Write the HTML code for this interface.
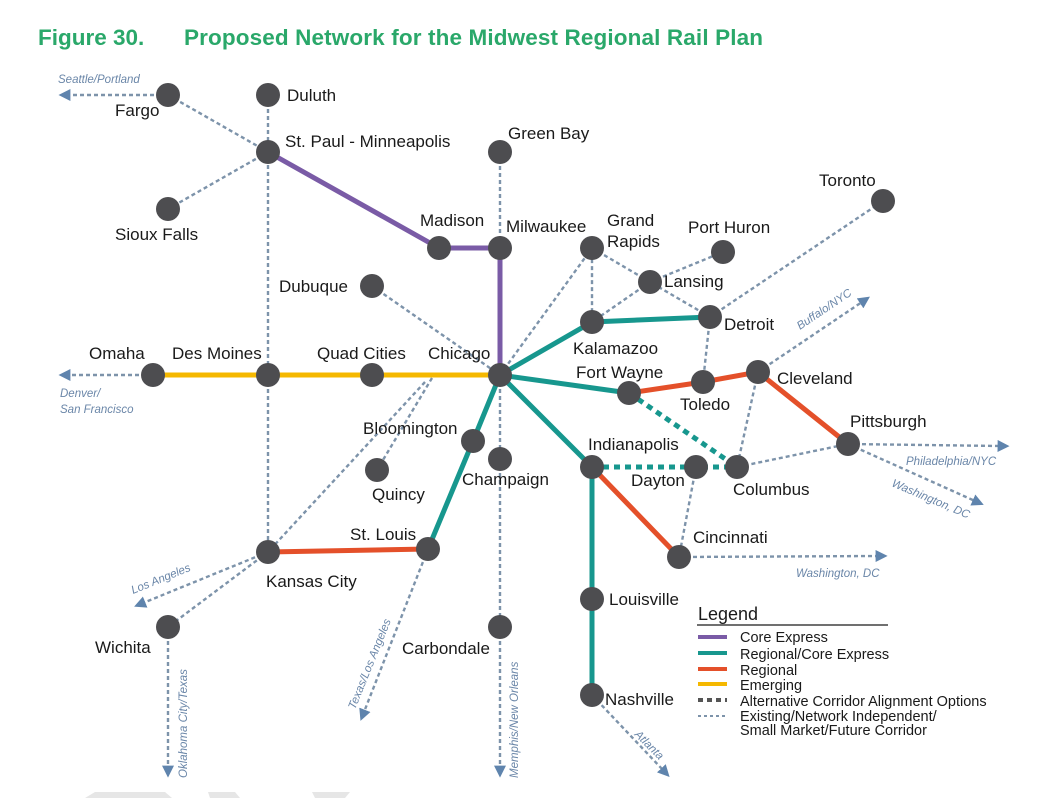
<!DOCTYPE html>
<html><head><meta charset="utf-8"><style>
html,body{margin:0;padding:0;background:#fff;}
svg{display:block;}
.c{font-family:"Liberation Sans",sans-serif;font-size:17px;fill:#1a1a1a;}
.a{font-family:"Liberation Sans",sans-serif;font-size:11.5px;font-style:italic;fill:#6a86a8;}
.d{stroke:#7d93aa;stroke-width:2.4;stroke-dasharray:4 3;fill:none;}
.da{stroke:#7d93aa;stroke-width:2.4;stroke-dasharray:4 3;fill:none;marker-end:url(#ar);}
.l{font-family:"Liberation Sans",sans-serif;font-size:14.5px;fill:#1a1a1a;}
</style></head><body>
<svg width="1040" height="798" viewBox="0 0 1040 798" xmlns="http://www.w3.org/2000/svg">
<defs><marker id="ar" viewBox="0 0 10 10" refX="2" refY="5" markerWidth="5" markerHeight="5" orient="auto" markerUnits="strokeWidth"><path d="M0,0L10,5L0,10z" fill="#5f84ad"/></marker></defs>
<text x="38" y="45" font-family="Liberation Sans,sans-serif" font-weight="bold" font-size="22.5" fill="#2aa86a">Figure 30.</text>
<text x="184" y="45" font-family="Liberation Sans,sans-serif" font-weight="bold" font-size="22.5" fill="#2aa86a" textLength="579" lengthAdjust="spacing">Proposed Network for the Midwest Regional Rail Plan</text>
<polygon points="85,798 95,792 165,792 172,798" fill="#e6e6e6"/>
<polygon points="210,798 208,792 235,792 240,798" fill="#e6e6e6"/>
<polygon points="315,798 312,792 350,792 345,798" fill="#e6e6e6"/>
<path class="da" d="M168,95 L68,95"/>
<path class="d" d="M168,95 L268,152 M268,95 L268,552 M268,152 L168,209 M500,152 L500,248 M372,286 L500,375 M500,375 L592,248 L592,322 M592,248 L650,282 L710,317 M650,282 L723,252 M650,282 L592,322 M710,317 L883,201 M710,317 L703,382 M758,372 L737,467 L848,444 M432,378 L377,470 M425,382 L268,552 M268,552 L168,627 M500,375 L500,627 M696,467 L679,557"/>
<path class="da" d="M758,372 L862,302"/>
<path class="da" d="M848,444 L1000,446"/>
<path class="da" d="M848,444 L975,501"/>
<path class="da" d="M153,375 L68,375"/>
<path class="da" d="M268,552 L143,603"/>
<path class="da" d="M168,627 L168,768"/>
<path class="da" d="M428,549 L364,712"/>
<path class="da" d="M500,627 L500,768"/>
<path class="da" d="M679,557 L878,556"/>
<path class="da" d="M592,695 L663,770"/>
<path d="M268,152 L439,248 L500,248 L500,375" stroke="#7a5ba6" stroke-width="5" fill="none"/>
<path d="M153,375 L500,375" stroke="#f5b800" stroke-width="5" fill="none"/>
<path d="M500,375 L592,322 L710,317 M500,375 L629,393 M500,375 L592,467 L592,695 M500,375 L473,441 L428,549" stroke="#17978e" stroke-width="5" fill="none"/>
<path d="M629,393 L703,382 L758,372 L848,444 M592,467 L679,557 M268,552 L428,549" stroke="#e4502a" stroke-width="5" fill="none"/>
<path d="M629,393 L737,467 M592,467 L737,467" stroke="#17978e" stroke-width="5" stroke-dasharray="6 5" fill="none"/>
<g fill="#4d4d50">
<circle cx="168" cy="95" r="12"/><circle cx="268" cy="95" r="12"/><circle cx="268" cy="152" r="12"/><circle cx="168" cy="209" r="12"/>
<circle cx="500" cy="152" r="12"/><circle cx="439" cy="248" r="12"/><circle cx="500" cy="248" r="12"/><circle cx="592" cy="248" r="12"/>
<circle cx="723" cy="252" r="12"/><circle cx="650" cy="282" r="12"/><circle cx="883" cy="201" r="12"/><circle cx="372" cy="286" r="12"/>
<circle cx="592" cy="322" r="12"/><circle cx="710" cy="317" r="12"/><circle cx="153" cy="375" r="12"/><circle cx="268" cy="375" r="12"/>
<circle cx="372" cy="375" r="12"/><circle cx="500" cy="375" r="12"/><circle cx="629" cy="393" r="12"/><circle cx="703" cy="382" r="12"/>
<circle cx="758" cy="372" r="12"/><circle cx="848" cy="444" r="12"/><circle cx="473" cy="441" r="12"/><circle cx="500" cy="459" r="12"/>
<circle cx="377" cy="470" r="12"/><circle cx="592" cy="467" r="12"/><circle cx="696" cy="467" r="12"/><circle cx="737" cy="467" r="12"/>
<circle cx="679" cy="557" r="12"/><circle cx="268" cy="552" r="12"/><circle cx="428" cy="549" r="12"/><circle cx="592" cy="599" r="12"/>
<circle cx="168" cy="627" r="12"/><circle cx="500" cy="627" r="12"/><circle cx="592" cy="695" r="12"/>
</g>
<g class="c">
<text x="115" y="116">Fargo</text><text x="287" y="101">Duluth</text><text x="285" y="147">St. Paul - Minneapolis</text>
<text x="115" y="240">Sioux Falls</text><text x="508" y="139">Green Bay</text><text x="420" y="226">Madison</text>
<text x="506" y="232">Milwaukee</text><text x="607" y="226">Grand</text><text x="607" y="247">Rapids</text>
<text x="688" y="233">Port Huron</text><text x="664" y="287">Lansing</text><text x="819" y="186">Toronto</text>
<text x="279" y="292">Dubuque</text><text x="573" y="354">Kalamazoo</text><text x="724" y="330">Detroit</text>
<text x="89" y="359">Omaha</text><text x="172" y="359">Des Moines</text><text x="317" y="359">Quad Cities</text><text x="428" y="359">Chicago</text>
<text x="576" y="378">Fort Wayne</text><text x="680" y="410">Toledo</text><text x="777" y="384">Cleveland</text>
<text x="850" y="427">Pittsburgh</text><text x="363" y="434">Bloomington</text><text x="462" y="485">Champaign</text>
<text x="372" y="500">Quincy</text><text x="588" y="450">Indianapolis</text><text x="631" y="486">Dayton</text>
<text x="733" y="495">Columbus</text><text x="693" y="543">Cincinnati</text><text x="350" y="540">St. Louis</text>
<text x="266" y="587">Kansas City</text><text x="609" y="605">Louisville</text><text x="95" y="653">Wichita</text>
<text x="402" y="654">Carbondale</text><text x="605" y="705">Nashville</text>
</g>
<g class="a">
<text x="58" y="83">Seattle/Portland</text>
<text x="60" y="397">Denver/</text><text x="60" y="413">San Francisco</text>
<text transform="translate(800,330) rotate(-34)">Buffalo/NYC</text>
<text x="906" y="465">Philadelphia/NYC</text>
<text transform="translate(891,486) rotate(23)">Washington, DC</text>
<text x="796" y="577">Washington, DC</text>
<text transform="translate(133,594) rotate(-22)">Los Angeles</text>
<text transform="translate(187,778) rotate(-90)">Oklahoma City/Texas</text>
<text transform="translate(355,710) rotate(-68)">Texas/Los Angeles</text>
<text transform="translate(518,778) rotate(-90)">Memphis/New Orleans</text>
<text transform="translate(634,735) rotate(45)">Atlanta</text>
</g>
<text x="698" y="620" font-family="Liberation Sans,sans-serif" font-size="18" fill="#1a1a1a">Legend</text>
<line x1="697" y1="625" x2="888" y2="625" stroke="#1a1a1a" stroke-width="1.2"/>
<line x1="698" y1="637" x2="727" y2="637" stroke="#7a5ba6" stroke-width="4"/>
<line x1="698" y1="653" x2="727" y2="653" stroke="#17978e" stroke-width="4"/>
<line x1="698" y1="669" x2="727" y2="669" stroke="#e4502a" stroke-width="4"/>
<line x1="698" y1="684" x2="727" y2="684" stroke="#f5b800" stroke-width="4"/>
<line x1="698" y1="700" x2="727" y2="700" stroke="#555" stroke-width="4" stroke-dasharray="5 4"/>
<line x1="698" y1="716" x2="727" y2="716" stroke="#7d93aa" stroke-width="2" stroke-dasharray="3 3"/>
<g class="l">
<text x="740" y="642">Core Express</text><text x="740" y="659">Regional/Core Express</text>
<text x="740" y="675">Regional</text><text x="740" y="690">Emerging</text>
<text x="740" y="706">Alternative Corridor Alignment Options</text>
<text x="740" y="721">Existing/Network Independent/</text><text x="740" y="735">Small Market/Future Corridor</text>
</g>
</svg>
</body></html>
